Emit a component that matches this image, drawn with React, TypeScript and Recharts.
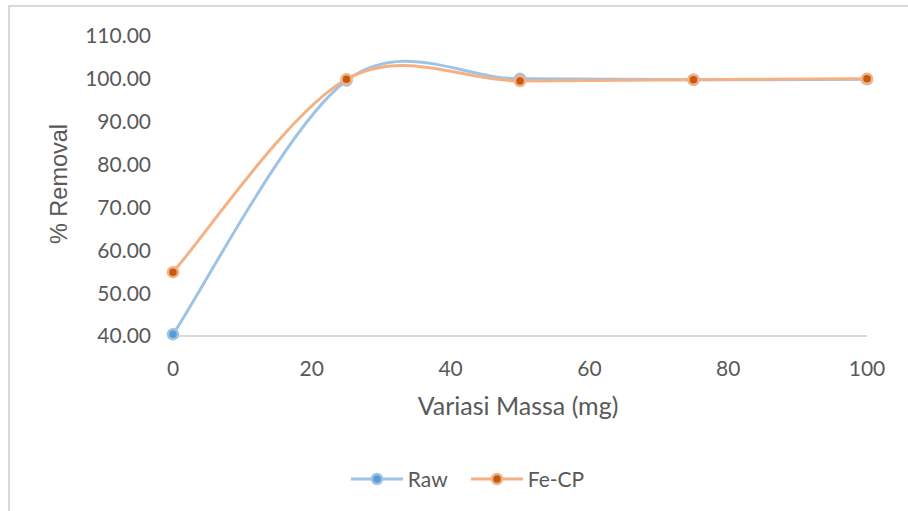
import React from "react";
import { LineChart, Line, XAxis, YAxis, Legend } from "recharts";

// data
const massa = [0, 25, 50, 75, 100];
const raw = [40.4, 99.6, 100.0, 99.8, 99.9];
const feCp = [54.9, 99.9, 99.5, 99.8, 100.0];
const xTicks = [0, 20, 40, 60, 80, 100];
const yTicks = [40, 50, 60, 70, 80, 90, 100, 110];

const data = massa.map((m, i) => ({ massa: m, raw: raw[i], feCp: feCp[i] }));

const FONT = "Lato, 'Open Sans', sans-serif";
const GREY = "#595959";

// Excel-like smoothed line (Catmull-Rom style bezier, 1/6 tangents)
const excelCurve = (context: any) => {
  let pts: number[][] = [];
  return {
    areaStart() {},
    areaEnd() {},
    lineStart() {
      pts = [];
    },
    point(x: number, y: number) {
      pts.push([+x, +y]);
    },
    lineEnd() {
      const n = pts.length;
      if (!n) return;
      context.moveTo(pts[0][0], pts[0][1]);
      for (let i = 0; i < n - 1; i++) {
        const p0 = pts[Math.max(i - 1, 0)];
        const p1 = pts[i];
        const p2 = pts[i + 1];
        const p3 = pts[Math.min(i + 2, n - 1)];
        context.bezierCurveTo(
          p1[0] + (p2[0] - p0[0]) / 6,
          p1[1] + (p2[1] - p0[1]) / 6,
          p2[0] - (p3[0] - p1[0]) / 6,
          p2[1] - (p3[1] - p1[1]) / 6,
          p2[0],
          p2[1]
        );
      }
    },
  };
};

const series = [
  { key: "raw", name: "Raw", line: "#9DC3E6", fill: "#5B9BD5" },
  { key: "feCp", name: "Fe-CP", line: "#F4B183", fill: "#C55A11" },
];

const LegendContent = () => (
  <div
    style={{
      display: "flex",
      justifyContent: "center",
      alignItems: "center",
      paddingLeft: 26,
      fontFamily: FONT,
      fontSize: 21,
      color: GREY,
    }}
  >
    {series.map((s, i) => (
      <div
        key={s.key}
        style={{ display: "flex", alignItems: "center", marginLeft: i ? 22 : 0 }}
      >
        <svg width={54} height={20}>
          <line x1={1} y1={10} x2={53} y2={10} stroke={s.line} strokeWidth={3} />
          <circle cx={27} cy={10} r={5} fill={s.fill} stroke={s.line} strokeWidth={2.5} />
        </svg>
        <span style={{ marginLeft: 4 }}>{s.name}</span>
      </div>
    ))}
  </div>
);

const App = () => {
  return (
    <div style={{ position: "fixed", left: 0, top: 0, width: 908, height: 511, background: "#fff" }}>
      <div
        style={{
          position: "absolute",
          left: 8,
          top: 5,
          width: 920,
          height: 540,
          border: "2px solid #D9D9D9",
        }}
      />
      <div style={{ position: "absolute", left: 0, top: 0 }}>
        <LineChart
          width={908}
          height={511}
          data={data}
          margin={{ top: 36, right: 41, bottom: 135, left: 93 }}
        >
          <XAxis
            dataKey="massa"
            type="number"
            domain={[0, 100]}
            ticks={xTicks}
            height={40}
            tickLine={false}
            tickSize={0}
            tickMargin={25}
            axisLine={{ stroke: "#D9D9D9", strokeWidth: 2 }}
            tick={{ fill: GREY, fontSize: 21, fontFamily: FONT }}
            label={{
              content: (props: any) => {
                const vb = props.viewBox;
                return (
                  <text
                    x={vb.x + vb.width / 2 - 2}
                    y={vb.y + 79}
                    textAnchor="middle"
                    fill={GREY}
                    fontSize={25}
                    fontFamily={FONT}
                  >
                    Variasi Massa (mg)
                  </text>
                );
              },
            }}
          />
          <YAxis
            type="number"
            domain={[40, 110]}
            ticks={yTicks}
            width={80}
            axisLine={false}
            tickLine={false}
            tickSize={0}
            tickMargin={22}
            tickFormatter={(v: number) => v.toFixed(2)}
            tick={{ fill: GREY, fontSize: 21, fontFamily: FONT }}
            label={{
              content: (props: any) => {
                const vb = props.viewBox;
                const cx = vb.x - 34;
                const cy = vb.y + vb.height / 2 - 2;
                return (
                  <text
                    x={cx}
                    y={cy}
                    dy="0.35em"
                    textAnchor="middle"
                    transform={`rotate(-90 ${cx} ${cy})`}
                    fill={GREY}
                    fontSize={23.5}
                    fontFamily="'Liberation Sans', Arial, sans-serif"
                  >
                    % Removal
                  </text>
                );
              },
            }}
          />
          <Legend
            layout="horizontal"
            verticalAlign="middle"
            align="center"
            wrapperStyle={{ position: "absolute", top: 466, left: 0, width: 908 }}
            content={<LegendContent />}
          />
          {series.map((s) => (
            <Line
              key={s.key}
              dataKey={s.key}
              name={s.name}
              type={excelCurve as any}
              stroke={s.line}
              strokeWidth={3}
              dot={{ r: 5, fill: s.fill, stroke: s.line, strokeWidth: 2.5 }}
              activeDot={false}
              isAnimationActive={false}
            />
          ))}
        </LineChart>
      </div>
    </div>
  );
};

export default App;
